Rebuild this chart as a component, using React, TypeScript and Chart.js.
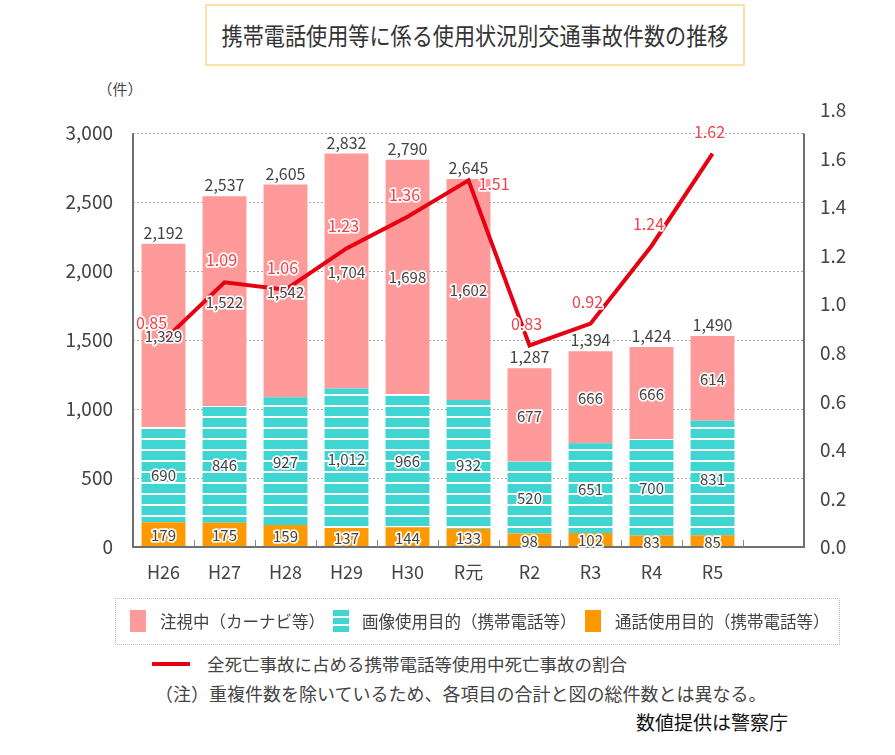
import React, { useEffect, useRef } from 'react';
import { Chart, registerables } from 'chart.js';

Chart.register(...registerables);

const categories = ['H26', 'H27', 'H28', 'H29', 'H30', 'R元', 'R2', 'R3', 'R4', 'R5', ''];
const callUse = [179, 175, 159, 137, 144, 133, 98, 102, 83, 85];
const imageUse = [690, 846, 927, 1012, 966, 932, 520, 651, 700, 831];
const watching = [1329, 1522, 1542, 1704, 1698, 1602, 677, 666, 666, 614];
const totals = [2192, 2537, 2605, 2832, 2790, 2645, 1287, 1394, 1424, 1490];
const ratio = [0.85, 1.09, 1.06, 1.23, 1.36, 1.51, 0.83, 0.92, 1.24, 1.62];
const leftTicks = [0, 500, 1000, 1500, 2000, 2500, 3000];
const rightTicks = [0, 0.2, 0.4, 0.6, 0.8, 1.0, 1.2, 1.4, 1.6, 1.8];

const FONT = "'Noto Sans CJK JP', 'Noto Sans', sans-serif";
const PINK = '#ff9a9a';
const CYAN = '#3fd5d2';
const ORANGE = '#ff9900';
const RED = '#e60012';
const TEXT = '#444444';
const LABEL_RED = '#f0414a';

function haloText(ctx: CanvasRenderingContext2D, text: string, x: number, y: number, color: string) {
  ctx.lineJoin = 'round';
  ctx.lineWidth = 3.5;
  ctx.strokeStyle = 'rgba(255,255,255,0.95)';
  ctx.strokeText(text, x, y);
  ctx.fillStyle = color;
  ctx.fillText(text, x, y);
}

const fmt = (v: number) => v.toLocaleString('en-US');

const decorPlugin = {
  id: 'decor',
  afterDatasetsDraw(chart: any) {
    const ctx: CanvasRenderingContext2D = chart.ctx;
    const y = chart.scales.y;
    const x = chart.scales.x;
    const top = y.getPixelForValue(3000);
    const bottom = y.getPixelForValue(0);
    const { left, right } = chart.chartArea;
    ctx.save();
    ctx.strokeStyle = '#707070';
    ctx.lineWidth = 2;
    ctx.beginPath();
    ctx.moveTo(left, top);
    ctx.lineTo(left, bottom);
    ctx.lineTo(right, bottom);
    ctx.lineTo(right, top);
    ctx.stroke();
    ctx.lineWidth = 1;
    ctx.strokeStyle = '#888';
    ctx.beginPath();
    for (let i = 0; i < categories.length - 1; i++) {
      const px = Math.round((x.getPixelForValue(i) + x.getPixelForValue(i + 1)) / 2) + 0.5;
      ctx.moveTo(px, bottom);
      ctx.lineTo(px, bottom - 7);
    }
    ctx.stroke();

    ctx.font = `15px ${FONT}`;
    ctx.textAlign = 'center';
    ctx.textBaseline = 'middle';
    for (let d = 0; d < 3; d++) {
      const meta = chart.getDatasetMeta(d);
      const data = chart.data.datasets[d].data as number[];
      meta.data.forEach((el: any, i: number) => {
        if (data[i] == null) return;
        const cy = (el.y + el.base) / 2;
        haloText(ctx, fmt(data[i]), el.x, cy + 1, TEXT);
      });
    }
    ctx.font = `16px ${FONT}`;
    ctx.textBaseline = 'bottom';
    const topMeta = chart.getDatasetMeta(2);
    topMeta.data.forEach((el: any, i: number) => {
      if (totals[i] == null) return;
      haloText(ctx, fmt(totals[i]), el.x, el.y - 3, TEXT);
    });
    const lineMeta = chart.getDatasetMeta(3);
    ctx.font = `16px ${FONT}`;
    ctx.textBaseline = 'middle';
    lineMeta.data.forEach((el: any, i: number) => {
      const t = ratio[i].toFixed(2);
      if (i === 5) {
        ctx.textAlign = 'left';
        haloText(ctx, t, el.x + 10, el.y + 4, LABEL_RED);
      } else if (i === 0) {
        ctx.textAlign = 'center';
        haloText(ctx, t, el.x - 12, el.y - 18, LABEL_RED);
      } else {
        ctx.textAlign = 'center';
        haloText(ctx, t, el.x - 3, el.y - 22, LABEL_RED);
      }
    });
    ctx.restore();
  },
};

function makeStripe(): CanvasPattern | string {
  const c = document.createElement('canvas');
  c.width = 4;
  c.height = 11;
  const g = c.getContext('2d');
  if (!g) return CYAN;
  g.fillStyle = CYAN;
  g.fillRect(0, 0, 4, 11);
  g.fillStyle = '#ffffff';
  g.fillRect(0, 9, 4, 2);
  const p = g.createPattern(c, 'repeat');
  return p || CYAN;
}

export default function App() {
  const canvasRef = useRef<HTMLCanvasElement | null>(null);

  useEffect(() => {
    if (!canvasRef.current) return;
    Chart.defaults.font.family = FONT;
    const stripe = makeStripe();
    const chart = new Chart(canvasRef.current, {
      type: 'bar',
      data: {
        labels: categories,
        datasets: [
          {
            label: '通話使用目的（携帯電話等）',
            data: callUse,
            backgroundColor: ORANGE,
            stack: 's',
            yAxisID: 'y',
            order: 1,
            barPercentage: 0.72,
            categoryPercentage: 1,
          },
          {
            label: '画像使用目的（携帯電話等）',
            data: imageUse,
            backgroundColor: stripe as any,
            stack: 's',
            yAxisID: 'y',
            order: 1,
            barPercentage: 0.72,
            categoryPercentage: 1,
          },
          {
            label: '注視中（カーナビ等）',
            data: watching,
            backgroundColor: PINK,
            stack: 's',
            yAxisID: 'y',
            order: 1,
            barPercentage: 0.72,
            categoryPercentage: 1,
          },
          {
            type: 'line',
            label: '全死亡事故に占める携帯電話等使用中死亡事故の割合',
            data: ratio,
            borderColor: RED,
            backgroundColor: RED,
            borderWidth: 4,
            pointRadius: 0,
            tension: 0,
            yAxisID: 'y1',
            order: 0,
          } as any,
        ],
      },
      options: {
        responsive: false,
        maintainAspectRatio: false,
        animation: false,
        layout: { padding: { top: 110, left: 0, right: 0, bottom: 0 } },
        plugins: {
          legend: { display: false },
          tooltip: { enabled: false },
          title: { display: false },
        },
        scales: {
          x: {
            stacked: true,
            grid: { display: false },
            border: { display: false },
            ticks: { color: TEXT, font: { size: 18, family: FONT }, padding: 6, autoSkip: false, maxRotation: 0 },
            afterFit: (s: any) => {
              s.height = 53;
            },
          },
          y: {
            stacked: true,
            position: 'left',
            min: 0,
            max: 3168,
            afterBuildTicks: (s: any) => {
              s.ticks = leftTicks.map((v) => ({ value: v }));
            },
            grid: {
              drawTicks: false,
              color: (c: any) => (c.tick && c.tick.value === 0 ? 'rgba(0,0,0,0)' : '#a8a8a8'),
              lineWidth: 1,
            },
            border: { display: false, dash: [2, 2] },
            ticks: {
              color: TEXT,
              font: { size: 19, family: FONT },
              padding: 20,
              callback: (v: any) => fmt(Number(v)),
            },
            afterFit: (s: any) => {
              s.width = 133;
            },
          },
          y1: {
            position: 'right',
            min: 0,
            max: 1.8,
            afterBuildTicks: (s: any) => {
              s.ticks = rightTicks.map((v) => ({ value: v }));
            },
            grid: { display: false, drawOnChartArea: false, drawTicks: false },
            border: { display: false },
            ticks: {
              color: TEXT,
              font: { size: 19, family: FONT },
              padding: 16,
              callback: (v: any) => Number(v).toFixed(1),
            },
            afterFit: (s: any) => {
              s.width = 91;
            },
          },
        },
      },
      plugins: [decorPlugin],
    });
    return () => chart.destroy();
  }, []);

  const txt: React.CSSProperties = { position: 'absolute', fontFamily: FONT, color: TEXT, whiteSpace: 'nowrap', lineHeight: 1 };

  return (
    <div style={{ position: 'absolute', left: 0, top: 0, width: 895, height: 755, background: '#fff', overflow: 'hidden' }}>
      <div
        style={{
          position: 'absolute',
          left: 205,
          top: 4,
          width: 540,
          height: 62,
          boxSizing: 'border-box',
          border: '2px solid #fbe2a4',
          display: 'flex',
          alignItems: 'center',
          justifyContent: 'center',
          overflow: 'visible',
        }}
      >
        <span
          style={{
            display: 'inline-block',
            whiteSpace: 'nowrap',
            fontFamily: FONT,
            fontSize: 24,
            lineHeight: 1,
            color: '#333',
            transform: 'scaleX(0.88)',
          }}
        >
          携帯電話使用等に係る使用状況別交通事故件数の推移
        </span>
      </div>
      <div style={{ ...txt, left: 105, top: 81, fontSize: 15, fontFeatureSettings: '"halt"' }}>（件）</div>
      <canvas ref={canvasRef} width={895} height={600} style={{ position: 'absolute', left: 0, top: 0, width: 895, height: 600 }} />
      <div
        style={{
          position: 'absolute',
          left: 115,
          top: 598,
          width: 725,
          height: 47,
          boxSizing: 'border-box',
          border: '1px dotted #bbb',
        }}
      />
      <div style={{ position: 'absolute', left: 130, top: 610, width: 16, height: 22, background: PINK }} />
      <div style={{ ...txt, left: 160, top: 613, fontSize: 16.5 }}>注視中（カーナビ等）</div>
      <div
        style={{
          position: 'absolute',
          left: 333,
          top: 610,
          width: 16,
          height: 22,
          background: `repeating-linear-gradient(to bottom, ${CYAN} 0px, ${CYAN} 6px, #fff 6px, #fff 8px)`,
        }}
      />
      <div style={{ ...txt, left: 362, top: 613, fontSize: 16.5 }}>画像使用目的（携帯電話等）</div>
      <div style={{ position: 'absolute', left: 585, top: 610, width: 16, height: 22, background: ORANGE }} />
      <div style={{ ...txt, left: 615, top: 613, fontSize: 16.5 }}>通話使用目的（携帯電話等）</div>
      <div style={{ position: 'absolute', left: 152, top: 662, width: 38, height: 4, background: RED }} />
      <div style={{ ...txt, left: 207, top: 655, fontSize: 17.5 }}>全死亡事故に占める携帯電話等使用中死亡事故の割合</div>
      <div style={{ ...txt, left: 155, top: 684, fontSize: 18 }}>（注）重複件数を除いているため、各項目の合計と図の総件数とは異なる。</div>
      <div style={{ ...txt, left: 636, top: 712, fontSize: 19, color: '#111' }}>数値提供は警察庁</div>
    </div>
  );
}
